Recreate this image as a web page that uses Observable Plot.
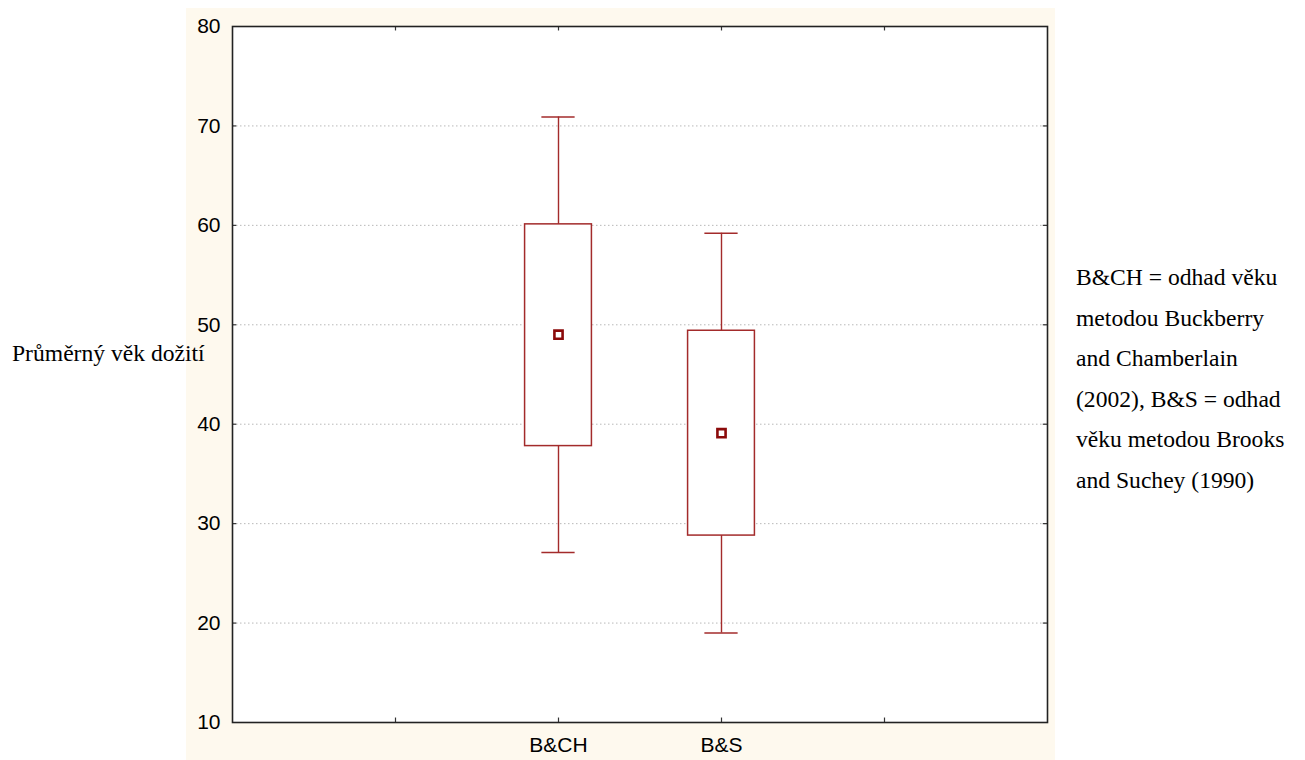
<!DOCTYPE html>
<html>
<head>
<meta charset="utf-8">
<script src="https://cdn.jsdelivr.net/npm/d3@7"></script>
<script src="https://cdn.jsdelivr.net/npm/@observablehq/plot@0.6"></script>
<style>
  html, body { margin: 0; padding: 0; background: #ffffff; }
  #wrap { position: relative; width: 1305px; height: 760px; overflow: hidden; }
  #chart { position: absolute; left: 186px; top: 8px; }
  .serif { position: absolute; font-family: "Liberation Serif", "Times New Roman", serif; font-size: 23.6px; color: #000; }
  #ylab { left: 12px; top: 340px; white-space: nowrap; }
  #note { left: 1076px; top: 257px; line-height: 40.5px; white-space: nowrap; }
</style>
</head>
<body>
<div id="wrap">
  <div id="chart"></div>
  <div id="ylab" class="serif">Průměrný věk dožití</div>
  <div id="note" class="serif">B&amp;CH = odhad věku<br>metodou Buckberry<br>and Chamberlain<br>(2002), B&amp;S = odhad<br>věku metodou Brooks<br>and Suchey (1990)</div>
</div>
<script>
// Data
const categories = ["B&CH", "B&S"];
const whiskerLow = [27.1, 19.0];
const boxLow = [37.8, 28.8];
const meanValue = [49.0, 39.1];
const boxHigh = [60.1, 49.4];
const whiskerHigh = [70.9, 59.2];
const yTicks = [10, 20, 30, 40, 50, 60, 70, 80];
const gridValues = [20, 30, 40, 50, 60, 70];
const xSlots = ["", "B&CH", "B&S", ""]; // tick labels at slots 1..4

const data = categories.map((c, i) => ({
  cat: c,
  pos: xSlots.indexOf(c) + 1,
  wlo: whiskerLow[i], lo: boxLow[i], mean: meanValue[i], hi: boxHigh[i], whi: whiskerHigh[i]
}));

const boxHalf = 0.205;
const capHalf = 0.102;
const red = "#a32b2b";

const chart = Plot.plot({
  width: 869,
  height: 752,
  marginLeft: 46,
  marginRight: 8,
  marginTop: 18,
  marginBottom: 38,
  style: { background: "#fef9ee", fontFamily: "'Liberation Sans', Arial, sans-serif", fontSize: "21px", color: "#000" },
  x: { domain: [0, 5], axis: null, label: null },
  y: { domain: [10, 80], axis: null, label: null },
  marks: [
    Plot.frame({ fill: "white", stroke: null }),
    Plot.ruleY(gridValues, { x1: 0, x2: 5, stroke: "#b8b8b8", strokeDasharray: "1.5,2.5", strokeWidth: 1 }),
    // whiskers
    Plot.ruleX(data, { x: "pos", y1: "wlo", y2: "whi", stroke: red, strokeWidth: 1.4 }),
    Plot.ruleY(data, { y: "wlo", x1: d => d.pos - capHalf, x2: d => d.pos + capHalf, stroke: red, strokeWidth: 1.4 }),
    Plot.ruleY(data, { y: "whi", x1: d => d.pos - capHalf, x2: d => d.pos + capHalf, stroke: red, strokeWidth: 1.4 }),
    // boxes
    Plot.rect(data, { x1: d => d.pos - boxHalf, x2: d => d.pos + boxHalf, y1: "lo", y2: "hi", fill: "white", stroke: red, strokeWidth: 1.5 }),
    // means
    Plot.dot(data, { x: "pos", y: "mean", symbol: "square", r: 4.6, fill: "white", stroke: "#8b0a0a", strokeWidth: 2.6 }),
    // inward ticks
    Plot.ruleY(yTicks.slice(1, -1), { x1: 0, x2: 0.026, stroke: "#333", strokeWidth: 1.2 }),
    Plot.ruleY(yTicks.slice(1, -1), { x1: 4.974, x2: 5, stroke: "#333", strokeWidth: 1.2 }),
    Plot.ruleX([1, 2, 3, 4], { y1: 10, y2: 10.45, stroke: "#333", strokeWidth: 1.2 }),
    Plot.ruleX([1, 2, 3, 4], { y1: 80, y2: 79.55, stroke: "#333", strokeWidth: 1.2 }),
    Plot.frame({ stroke: "#222", strokeWidth: 1.6 }),
    Plot.axisY(yTicks, { anchor: "left", tickSize: 0, tickPadding: 12, fontSize: 21, fill: "#000", label: null }),
    Plot.axisX([1, 2, 3, 4], { anchor: "bottom", tickSize: 0, tickPadding: 15, fontSize: 21, fill: "#000", label: null, tickFormat: d => xSlots[d - 1] })
  ]
});
document.getElementById("chart").appendChild(chart);
</script>
</body>
</html>
